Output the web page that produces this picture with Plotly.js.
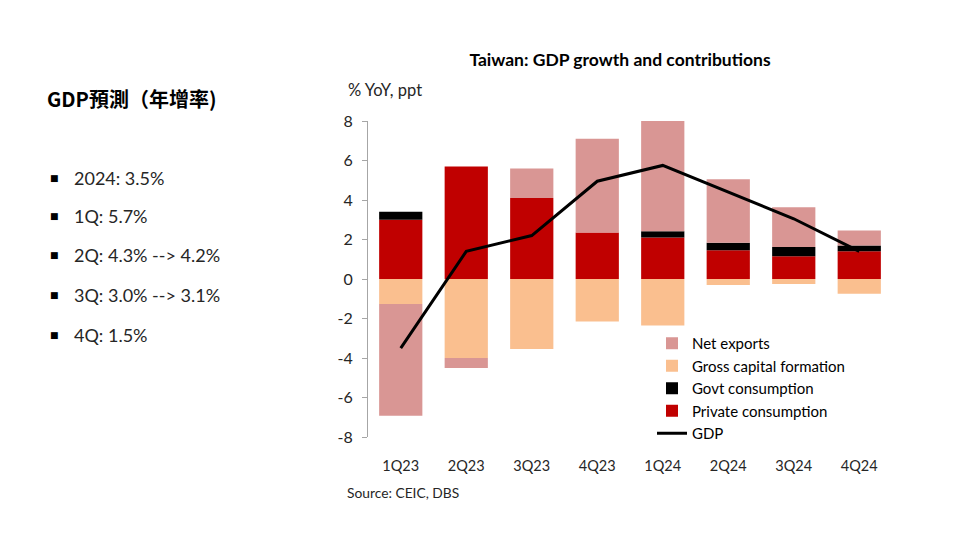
<!DOCTYPE html>
<html>
<head>
<meta charset="utf-8">
<script src="https://cdn.plot.ly/plotly-3.0.1.min.js"></script>
<style>html,body{margin:0;padding:0;background:#fff;}#chart{width:960px;height:560px;}</style>
</head>
<body>
<div id="chart"></div>
<script>
const categories = ["1Q23","2Q23","3Q23","4Q23","1Q24","2Q24","3Q24","4Q24"];
const privateConsumption = [3.0, 5.7, 4.1, 2.35, 2.1, 1.45, 1.15, 1.4];
const govtConsumption = [0.4, 0.0, 0.0, 0.0, 0.32, 0.39, 0.47, 0.29];
const grossCapitalFormation = [-1.27, -4.0, -3.55, -2.15, -2.36, -0.3, -0.25, -0.75];
const netExports = [-5.65, -0.5, 1.5, 4.75, 5.63, 3.21, 2.01, 0.76];
const gdp = [-3.5, 1.4, 2.2, 4.95, 5.75, 4.4, 3.05, 1.4];
const yTicks = [-8, -6, -4, -2, 0, 2, 4, 6, 8];
const sideTitle = "GDP預測（年增率)";
const bullets = ["2024: 3.5%", "1Q: 5.7%", "2Q: 4.3% --> 4.2%", "3Q: 3.0% --> 3.1%", "4Q: 1.5%"];

const FONT = "Lato, 'Open Sans', sans-serif";
const L = 368, R = 892, T = 121, B = 437, W = 960, H = 560;
const px = x => (x - L) / (R - L);
const py = y => (B - y) / (B - T);

const traces = [
  {type:"scatter", mode:"lines", name:"GDP", x:categories, y:gdp,
   line:{color:"#000000", width:3}},
  {type:"bar", name:"Private consumption", x:categories, y:privateConsumption, marker:{color:"#C00000"}},
  {type:"bar", name:"Govt consumption", x:categories, y:govtConsumption, marker:{color:"#000000"}},
  {type:"bar", name:"Gross capital formation", x:categories, y:grossCapitalFormation, marker:{color:"#FABF8F"}},
  {type:"bar", name:"Net exports", x:categories, y:netExports, marker:{color:"#D99694"}}
];

const annotations = [
  {xref:"paper", yref:"paper", x:px(346), y:py(90), xanchor:"left", yanchor:"middle",
   text:"% YoY, ppt", showarrow:false, font:{family:FONT, size:16.5, color:"#262626"}},
  {xref:"paper", yref:"paper", x:px(345), y:py(492), xanchor:"left", yanchor:"middle",
   text:"Source: CEIC, DBS", showarrow:false, font:{family:FONT, size:13.8, color:"#262626"}},
  {xref:"paper", yref:"paper", x:px(45), y:py(98), xanchor:"left", yanchor:"middle",
   text:"<b>"+sideTitle+"</b>", showarrow:false, font:{family:"'Noto Sans CJK TC', 'Noto Sans', sans-serif", size:20, color:"#000000"}}
];
const bulletY = [178, 216, 255, 295, 335];
bullets.forEach((b, i) => {
  annotations.push({xref:"paper", yref:"paper", x:px(48), y:py(bulletY[i]), xanchor:"left", yanchor:"middle",
    text:"■", showarrow:false, font:{family:"'DejaVu Sans', sans-serif", size:9, color:"#000000"}});
  annotations.push({xref:"paper", yref:"paper", x:px(72), y:py(bulletY[i]), xanchor:"left", yanchor:"middle",
    text:b, showarrow:false, font:{family:FONT, size:18, color:"#262626"}});
});

const layout = {
  width:W, height:H,
  margin:{l:L, r:W-R, t:T, b:H-B, pad:0},
  paper_bgcolor:"#ffffff", plot_bgcolor:"#ffffff",
  barmode:"relative", bargap:0.34,
  title:{text:"<b>Taiwan: GDP growth and contributions</b>", xref:"container", x:620/W, xanchor:"center",
         yref:"container", y:1-60/H, yanchor:"middle", font:{family:FONT, size:17.5, color:"#000000"}},
  showlegend:true,
  legend:{x:px(652), y:py(327), xanchor:"left", yanchor:"top", traceorder:"reversed",
          font:{family:FONT, size:15, color:"#000000"}, bgcolor:"rgba(0,0,0,0)",
          tracegroupgap:0, itemwidth:30},
  xaxis:{type:"category", categoryarray:categories, range:[-0.5,7.5],
         showline:false, showgrid:false, zeroline:false, ticks:"",
         ticklabelstandoff:18, tickfont:{family:FONT, size:14.5, color:"#262626"}},
  xaxis2:{overlaying:"x", anchor:"free", position:0.5, type:"linear", range:[-0.5,7.5],
          tick0:0.5, dtick:1, ticks:"outside", ticklen:5, tickcolor:"#a6a6a6", tickwidth:1,
          showticklabels:false, showline:true, linecolor:"#a6a6a6", linewidth:1,
          showgrid:false, zeroline:false, side:"bottom"},
  yaxis:{range:[-8,8], tickvals:yTicks, ticktext:yTicks.map(String),
         showline:true, linecolor:"#a6a6a6", linewidth:1, ticks:"outside", ticklen:5,
         tickcolor:"#a6a6a6", showgrid:false, zeroline:false,
         tickfont:{family:FONT, size:16, color:"#262626"}, ticklabelstandoff:6},
  annotations:annotations
};

Plotly.newPlot("chart", traces, layout, {displayModeBar:false, staticPlot:true});
</script>
</body>
</html>
